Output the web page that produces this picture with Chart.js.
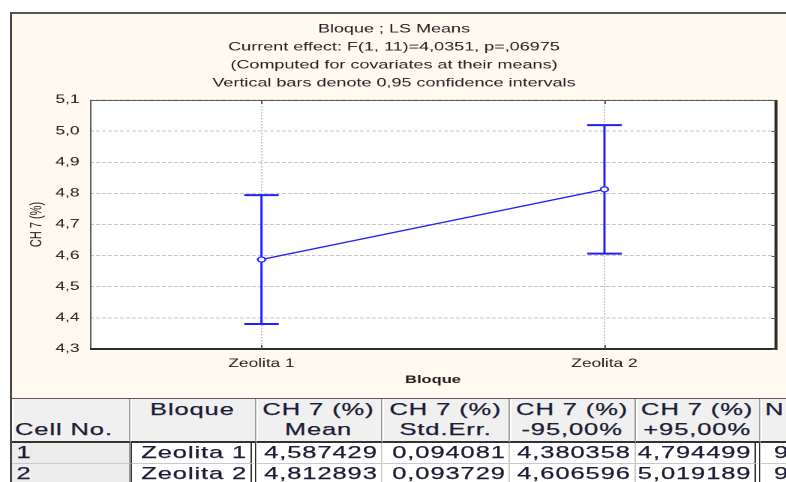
<!DOCTYPE html>
<html>
<head>
<meta charset="utf-8">
<script src="https://cdn.jsdelivr.net/npm/chart.js@4/dist/chart.umd.min.js"></script>
<style>
  body { margin: 0; width: 786px; height: 482px; overflow: hidden; background: #fff; position: relative; font-family: "Liberation Sans", Arial, sans-serif; }
  #panel { position: absolute; left: 10px; top: 12px; width: 776px; height: 386px; box-sizing: border-box;
           border-left: 2px solid #474747; border-top: 2px solid #555; background: #fff9ef; }
  /* everything is laid out narrow and stretched sideways */
  .stretch { position: absolute; left: 0; top: 0; transform: scaleX(1.5); transform-origin: 0 0; }
  #tableBox { position: absolute; left: 10px; top: 398px; width: 776px; height: 84px; overflow: hidden;
              border-left: 2px solid #474747; box-sizing: border-box; background: #fff; }
  table { border-collapse: separate; border-spacing: 0; table-layout: fixed; width: 540px;
          border-top: 1px solid #5a5a5a; font-size: 17px; letter-spacing: 0.6px; color: #1c1c36;
          -webkit-text-stroke: 0.25px #1c1c36; }
  th, td { padding: 0; line-height: 20px; white-space: nowrap; overflow: hidden; }
  th { background: #f0f0f0; font-weight: normal; padding: 1px 0; border-bottom: 2px solid #333;
       border-right: 1px solid #9c9c9c; box-shadow: inset 1px 0 0 #fff; text-align: center; vertical-align: top; }
  td { border-bottom: 1px solid #c9c9c9; background: #fff; text-align: right; padding-right: 2px; }
  td.cell { background: #ececec; text-align: left; padding-left: 3px; border-right: 1px solid #9c9c9c; }
  td.grp { border-right: 4px double #333; border-left: 1px solid #333; }
  td.val { border-right: 1px solid #c9c9c9; }
  td.last { border-right: 4px double #333; }
  td.n { text-align: left; padding-left: 9px; }
</style>
</head>
<body>
<div id="panel">
  <div class="stretch" style="width:516px;height:384px;">
    <canvas id="chart" width="516" height="384"></canvas>
  </div>
</div>
<div id="tableBox">
  <div class="stretch">
    <table id="means">
      <colgroup>
        <col style="width:78.7px"><col style="width:84px"><col style="width:84px"><col style="width:85.3px">
        <col style="width:83.3px"><col style="width:83.3px"><col style="width:41px">
      </colgroup>
      <thead>
        <tr>
          <th style="text-align:left;padding-left:2px">&nbsp;<br>Cell No.</th>
          <th>Bloque<br>&nbsp;</th>
          <th>CH 7 (%)<br>Mean</th>
          <th>CH 7 (%)<br>Std.Err.</th>
          <th>CH 7 (%)<br>-95,00%</th>
          <th>CH 7 (%)<br>+95,00%</th>
          <th style="text-align:left;padding-left:3px">N<br>&nbsp;</th>
        </tr>
      </thead>
      <tbody id="rows"></tbody>
    </table>
  </div>
</div>
<script>
// ------------------------------
// LS means of CH 7 (%) per block
// ------------------------------
const groups = ['Zeolita 1', 'Zeolita 2'];
const means = [4.587429, 4.812893];
const stdErr = [0.094081, 0.093729];
const lower95 = [4.380358, 4.606596];
const upper95 = [4.794499, 5.019189];
const counts = [9, 9];

const yMin = 4.3;
const yMax = 5.1;
const yStep = 0.1;

const titleLines = [
    'Bloque ; LS Means',
    'Current effect: F(1, 11)=4,0351, p=,06975',
    '(Computed for covariates at their means)',
    'Vertical bars denote 0,95 confidence intervals'
];

const FONT = '"Liberation Sans", Arial, sans-serif';
const BLUE = '#1f1fff';
const TEXT = '#1e1e1e';

// decimal comma, as in the statistics output
const comma = (v, d) => v.toFixed(d).replace('.', ',');

// ------------------------------
// Results table under the plot
// ------------------------------
const tbody = document.getElementById('rows');
groups.forEach((g, i) => {
    const tr = document.createElement('tr');
    tr.innerHTML = `
        <td class="cell">${i + 1}</td>
        <td class="grp">${g}</td>
        <td class="val">${comma(means[i], 6)}</td>
        <td class="val">${comma(stdErr[i], 6)}</td>
        <td class="val">${comma(lower95[i], 6)}</td>
        <td class="last">${comma(upper95[i], 6)}</td>
        <td class="n">${counts[i]}</td>`;
    tbody.appendChild(tr);
});

// ------------------------------
// White plot background
// ------------------------------
const plotBackground = {
    id: 'plotBackground',
    beforeDraw(chart) {
        const { ctx, chartArea: a } = chart;
        ctx.save();
        ctx.fillStyle = '#fff';
        ctx.fillRect(a.left, a.top, a.right - a.left, a.bottom - a.top);
        ctx.restore();
    }
};

// ------------------------------
// Confidence interval whiskers (under the line and points)
// ------------------------------
const errorBars = {
    id: 'errorBars',
    beforeDatasetsDraw(chart) {
        const { ctx, scales: { x, y } } = chart;
        const cap = 11.5;
        ctx.save();
        ctx.strokeStyle = BLUE;
        groups.forEach((g, i) => {
            const px = x.getPixelForValue(i);
            const top = y.getPixelForValue(upper95[i]);
            const bot = y.getPixelForValue(lower95[i]);
            ctx.lineWidth = 1.5;
            ctx.beginPath();
            ctx.moveTo(px, top);
            ctx.lineTo(px, bot);
            ctx.stroke();
            ctx.lineWidth = 2;
            ctx.beginPath();
            ctx.moveTo(px - cap, top);
            ctx.lineTo(px + cap, top);
            ctx.moveTo(px - cap, bot);
            ctx.lineTo(px + cap, bot);
            ctx.stroke();
        });
        ctx.restore();
    }
};

// ------------------------------
// Plot frame: light top/left, heavy bottom/right, small inner ticks
// ------------------------------
const plotFrame = {
    id: 'plotFrame',
    afterDatasetsDraw(chart) {
        const { ctx, chartArea: a, scales: { x, y } } = chart;
        ctx.save();
        ctx.strokeStyle = '#5c5c5c';
        ctx.lineWidth = 1;
        ctx.beginPath();
        ctx.moveTo(a.left + 0.5, a.bottom);
        ctx.lineTo(a.left + 0.5, a.top + 0.5);
        ctx.lineTo(a.right, a.top + 0.5);
        ctx.stroke();

        ctx.strokeStyle = '#2c2c2c';
        ctx.lineWidth = 2;
        ctx.beginPath();
        ctx.moveTo(a.left, a.bottom);
        ctx.lineTo(a.right, a.bottom);
        ctx.lineTo(a.right, a.top);
        ctx.stroke();

        ctx.strokeStyle = '#555';
        ctx.lineWidth = 1;
        ctx.beginPath();
        y.ticks.forEach(t => {
            const py = Math.round(y.getPixelForValue(t.value)) + 0.5;
            ctx.moveTo(a.right - 3, py);
            ctx.lineTo(a.right, py);
        });
        groups.forEach((g, i) => {
            const px = Math.round(x.getPixelForValue(i)) + 0.5;
            ctx.moveTo(px, a.top);
            ctx.lineTo(px, a.top + 4);
            ctx.moveTo(px, a.bottom);
            ctx.lineTo(px, a.bottom - 4);
        });
        ctx.stroke();
        ctx.restore();
    }
};

new Chart(document.getElementById('chart'), {
    type: 'line',
    data: {
        labels: groups,
        datasets: [{
            data: means,
            borderColor: BLUE,
            borderWidth: 1.3,
            tension: 0,
            pointRadius: 2.5,
            pointBackgroundColor: '#fff',
            pointBorderColor: BLUE,
            pointBorderWidth: 1.2
        }]
    },
    options: {
        responsive: false,
        animation: false,
        devicePixelRatio: 2,
        layout: { padding: { left: 0, right: 6.7, top: 0, bottom: 0 } },
        plugins: {
            legend: { display: false },
            tooltip: { enabled: false },
            title: {
                display: true,
                text: titleLines,
                color: TEXT,
                font: { family: FONT, size: 12, weight: 'normal', lineHeight: 1.5 },
                padding: { top: 6, bottom: 8 }
            }
        },
        scales: {
            x: {
                offset: true,
                grid: { color: '#c2c2c2', drawTicks: false, offset: false },
                border: { display: false, dash: [1.5, 1.5] },
                ticks: { color: TEXT, padding: 8, font: { family: FONT, size: 11.5 } },
                title: {
                    display: true,
                    text: 'Bloque',
                    color: TEXT,
                    font: { family: FONT, size: 11, weight: 'bold' },
                    padding: { top: 0, bottom: 11.4 }
                },
                afterFit(scale) { scale.height = 49; }
            },
            y: {
                min: yMin,
                max: yMax,
                grid: { color: '#c6c6c6', drawTicks: false },
                border: { display: false, dash: [2.5, 1.5] },
                ticks: {
                    stepSize: yStep,
                    color: TEXT,
                    padding: 7,
                    font: { family: FONT, size: 11.5 },
                    callback: v => comma(v, 1)
                },
                title: {
                    display: true,
                    text: 'CH 7 (%)',
                    color: TEXT,
                    font: { family: FONT, size: 11 },
                    padding: { top: 10, bottom: 0 }
                },
                afterFit(scale) { scale.width = 52; }
            }
        }
    },
    plugins: [plotBackground, errorBars, plotFrame]
});
</script>
</body>
</html>
